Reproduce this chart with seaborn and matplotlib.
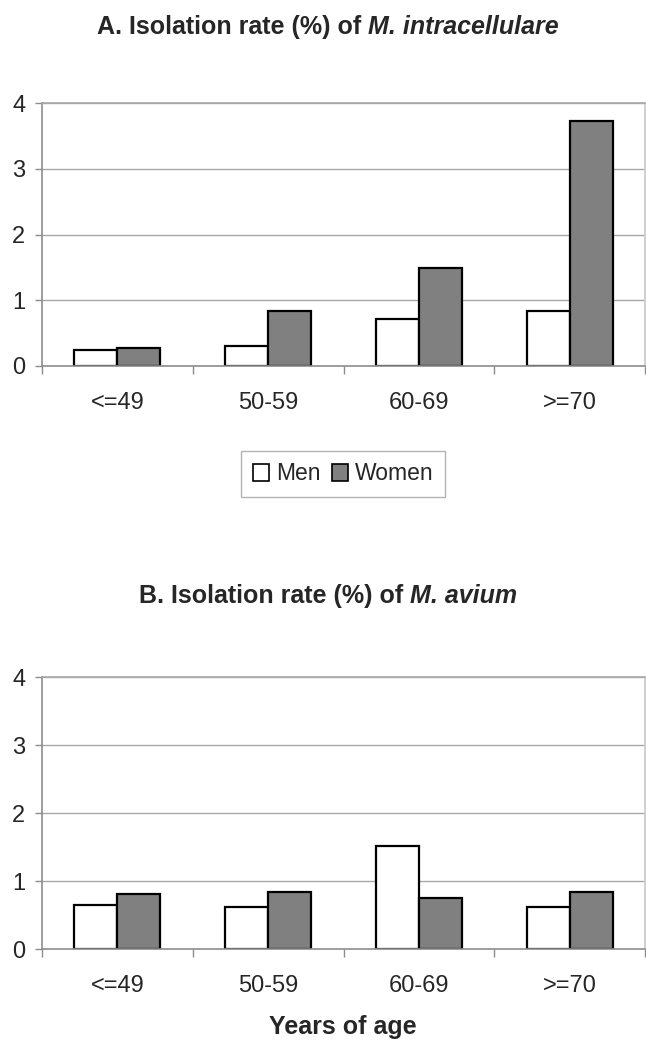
import numpy as np
import pandas as pd
import matplotlib
matplotlib.use("Agg")
import matplotlib.pyplot as plt
import seaborn as sns
from matplotlib.patches import Patch

sns.set_style("white")
plt.rcParams['font.family'] = ['Liberation Sans', 'DejaVu Sans']

# age groups and isolation rates (%)
ages = ["<=49", "50-59", "60-69", ">=70"]
sexes = ["Men", "Women"]
intra_men = [0.24, 0.31, 0.71, 0.84]
intra_women = [0.27, 0.84, 1.49, 3.72]
avium_men = [0.65, 0.62, 1.52, 0.62]
avium_women = [0.81, 0.84, 0.75, 0.84]
yticks = [0, 1, 2, 3, 4]

palette = {"Men": "white", "Women": "#808080"}


def long_df(men, women):
    return pd.DataFrame({
        "age": ages * 2,
        "sex": ["Men"] * len(ages) + ["Women"] * len(ages),
        "rate": list(men) + list(women),
    })


fig = plt.figure(figsize=(6.46, 10.42), dpi=100)
W, H = 646, 1042


def px_axes(left, top, right, bottom):
    return fig.add_axes([left / W, 1 - bottom / H, (right - left) / W, (bottom - top) / H])


axA = px_axes(42, 103, 645, 366)
axB = px_axes(42, 677, 645, 949)


def style(ax, df):
    sns.barplot(data=df, x="age", y="rate", hue="sex", hue_order=sexes, order=ages,
                palette=palette, edgecolor="black", linewidth=1.6, width=0.57,
                legend=False, ax=ax)
    ax.set_ylim(0, 4)
    ax.set_xlim(-0.5, 3.5)
    ax.set_yticks(yticks)
    ax.set_xlabel("")
    ax.set_ylabel("")
    for y in yticks[1:]:
        ax.axhline(y, color="#a8a8a8", lw=1.0, zorder=0)
    for s in ax.spines.values():
        s.set_color("#8c8c8c")
        s.set_linewidth(1.2)
    ax.spines["top"].set_color("#a8a8a8")
    ax.spines["right"].set_color("#c8c8c8")
    ax.set_xticks(np.arange(-0.5, 4, 1.0), minor=True)
    ax.tick_params(axis="x", which="major", length=0, pad=19, labelsize=17)
    ax.tick_params(axis="x", which="minor", length=6, width=1, color="#8c8c8c",
                   direction="out", bottom=True)
    ax.tick_params(axis="y", length=5, width=1, color="#8c8c8c", direction="out",
                   left=True, pad=7, labelsize=17)


style(axA, long_df(intra_men, intra_women))
style(axB, long_df(avium_men, avium_women))

# x label of the lower panel
fig.text(343 / W, 1 - 1027 / H, "Years of age", ha="center", va="center",
         fontsize=18, fontweight="bold")

# titles: bold part + bold italic species name, centred together
renderer = fig.canvas.get_renderer()
for base_px, lead, species in [(34, "A. Isolation rate (%) of", "M. intracellulare"),
                               (603, "B. Isolation rate (%) of", "M. avium")]:
    t1 = fig.text(0, 1 - base_px / H, lead, ha="left", va="baseline",
                  fontsize=18, fontweight="bold")
    t2 = fig.text(0, 1 - base_px / H, species, ha="left", va="baseline",
                  fontsize=18, fontweight="bold", fontstyle="italic")
    w1 = t1.get_window_extent(renderer).width
    w2 = t2.get_window_extent(renderer).width
    gap = 7
    x0 = 328 - (w1 + gap + w2) / 2
    t1.set_x(x0 / W)
    t2.set_x((x0 + w1 + gap) / W)

# legend
handles = [Patch(facecolor=palette[s], edgecolor="black", lw=1.2, label=s) for s in sexes]
leg = fig.legend(handles=handles, loc="center", bbox_to_anchor=(343 / W, 1 - 474 / H),
                 ncol=2, fontsize=16.5, frameon=True, fancybox=False,
                 handlelength=0.7, handleheight=0.7, handletextpad=0.3,
                 columnspacing=0.5, borderpad=0.5)
leg.get_frame().set_edgecolor("#a0a0a0")
leg.get_frame().set_linewidth(1.0)

fig.savefig("out.png", dpi=100)
